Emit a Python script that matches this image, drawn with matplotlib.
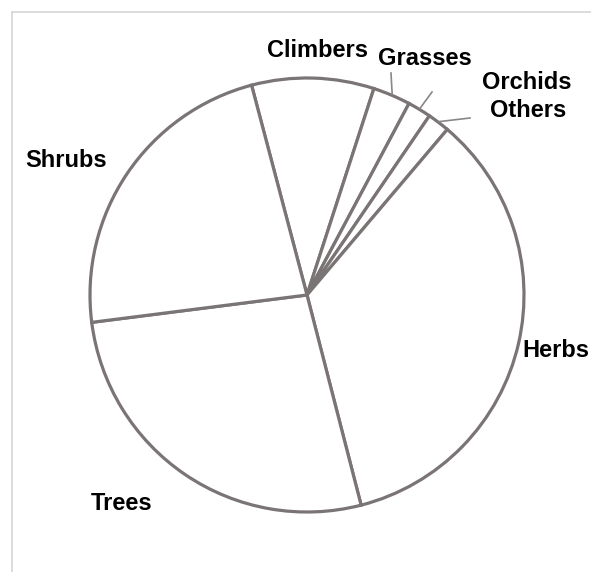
import matplotlib.pyplot as plt
import numpy as np

categories = ["Climbers", "Grasses", "Orchids", "Others", "Herbs", "Trees", "Shrubs"]
shares = [9.1, 2.8, 1.75, 1.65, 34.8, 27.0, 22.9]

W, H = 591, 572
CX, CY, R = 307, 295, 217
EDGE = "#7a7475"


def flip(y):
    # picture rows run down, the axes run up
    return H - y


# label anchor (left/baseline or centre), in picture pixels
label_pos = {
    "Climbers": (317, 57, "center"),
    "Grasses": (425, 65, "center"),
    "Orchids": (527, 89, "center"),
    "Others": (528, 117, "center"),
    "Herbs": (589, 357, "right"),
    "Trees": (122, 510, "center"),
    "Shrubs": (66, 167, "center"),
}
# where the short leader lines end
leader_end = {
    "Grasses": (391, 73),
    "Orchids": (432, 92),
    "Others": (470, 118),
}

fig = plt.figure(figsize=(W / 100, H / 100), dpi=100)
ax = fig.add_axes([0, 0, 1, 1])

wedges, _ = ax.pie(
    shares,
    center=(CX, flip(CY)),
    radius=R,
    startangle=104.8,
    counterclock=False,
    wedgeprops={"facecolor": "white", "edgecolor": EDGE, "linewidth": 2.3},
)

ax.set_xlim(0, W)
ax.set_ylim(0, H)
ax.set_aspect("equal")
ax.axis("off")

# faint frame on the top and left
ax.plot([12, W], [flip(12), flip(12)], color="#d6d6d6", linewidth=1.2)
ax.plot([12, 12], [flip(12), 0], color="#d6d6d6", linewidth=1.2)

for wedge, name in zip(wedges, categories):
    x, y, ha = label_pos[name]
    ax.text(
        x, flip(y), name,
        ha=ha, va="baseline",
        fontsize=17, fontweight="bold",
        family="Liberation Sans", color="black",
    )

    if name in leader_end:
        mid = np.deg2rad((wedge.theta1 + wedge.theta2) / 2)
        sx = CX + (R + 1) * np.cos(mid)
        sy = flip(CY) + (R + 1) * np.sin(mid)
        ex, ey = leader_end[name]
        ax.plot([sx, ex], [sy, flip(ey)], color="#8a8586", linewidth=1.2)

fig.savefig("out.png", dpi=100)
